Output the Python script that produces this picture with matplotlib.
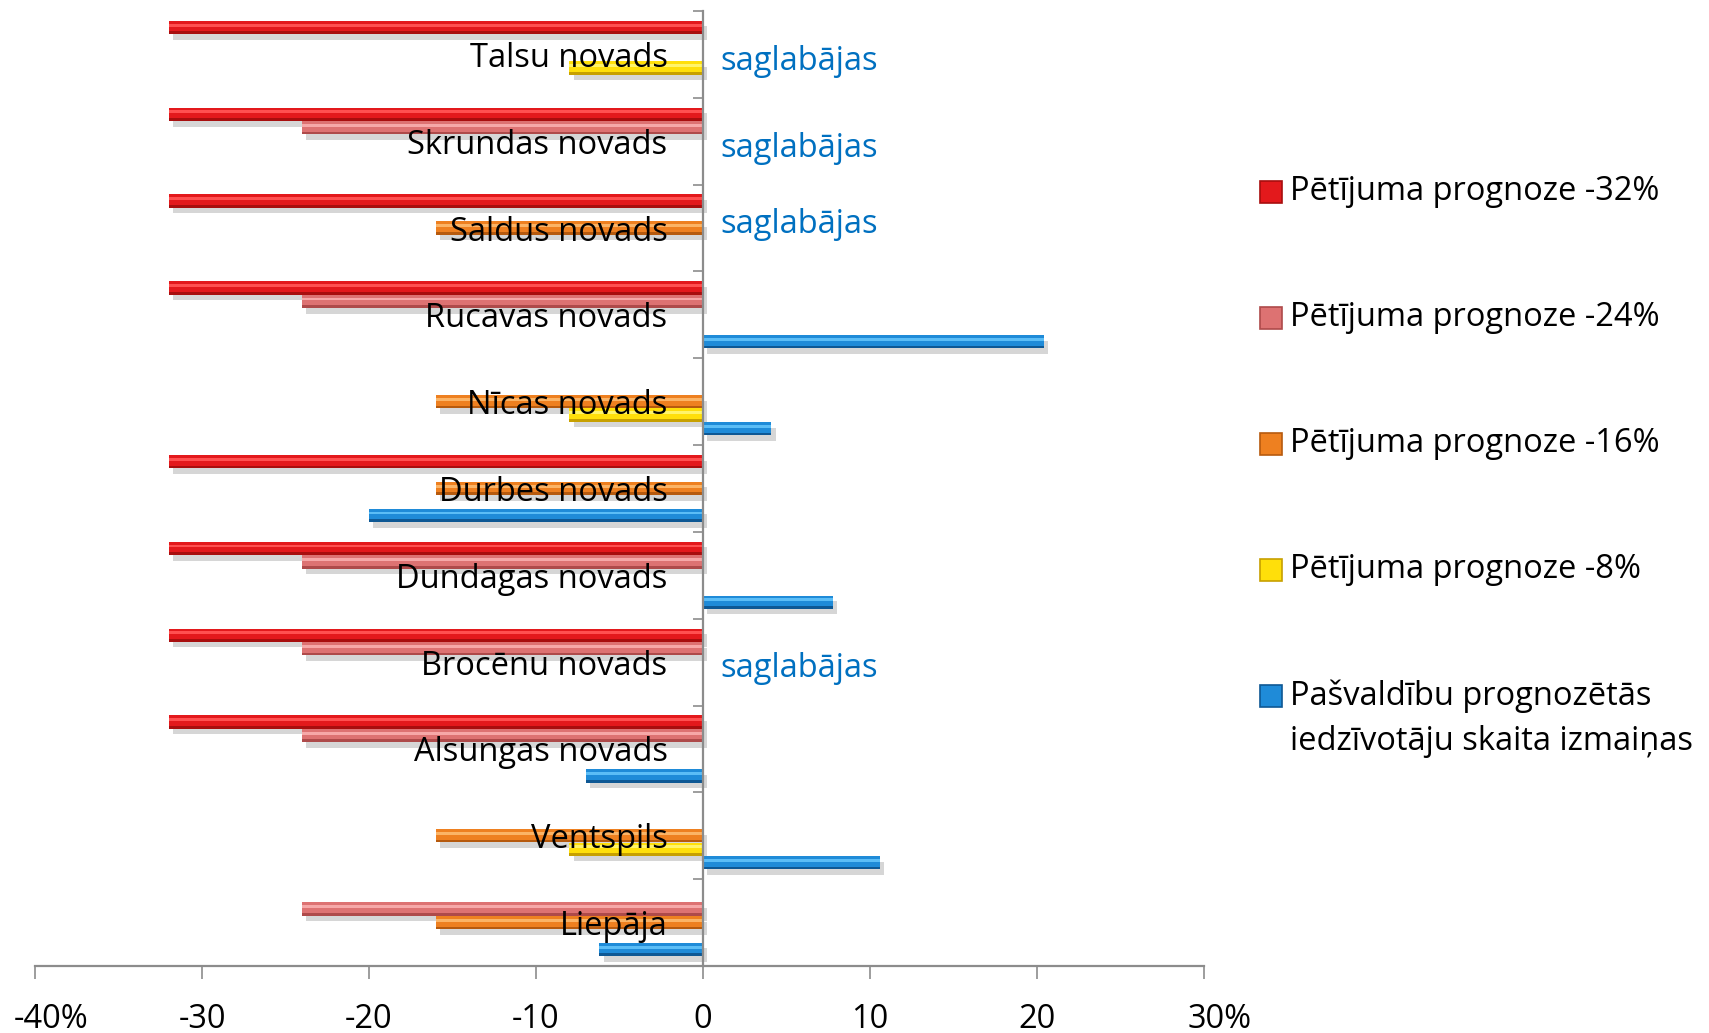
import numpy as np
import matplotlib
matplotlib.use("Agg")
import matplotlib.pyplot as plt
import matplotlib.patheffects as pe
import matplotlib.transforms as mtransforms
from matplotlib.patches import Rectangle

plt.rcParams['font.family'] = ['Open Sans', 'DejaVu Sans']

# ---------------- data ----------------
categories = ["Talsu novads", "Skrundas novads", "Saldus novads", "Rucavas novads",
              "Nīcas novads", "Durbes novads", "Dundagas novads", "Brocēnu novads",
              "Alsungas novads", "Ventspils", "Liepāja"]
nan = np.nan
p32 = [-32, -32, -32, -32, nan, -32, -32, -32, -32, nan, nan]
p24 = [nan, -24, nan, -24, nan, nan, -24, -24, -24, nan, -24]
p16 = [nan, nan, -16, nan, -16, -16, nan, nan, nan, -16, -16]
p8 = [-8, nan, nan, nan, -8, nan, nan, nan, nan, -8, nan]
pasv = [nan, nan, nan, 20.4, 4.1, -20.0, 7.8, nan, -7.0, 10.6, -6.2]
saglabajas = ["Talsu novads", "Skrundas novads", "Saldus novads", "Brocēnu novads"]
saglabajas_text = "saglabājas"

series_names = ["Pētījuma prognoze -32%", "Pētījuma prognoze -24%",
                "Pētījuma prognoze -16%", "Pētījuma prognoze -8%",
                "Pašvaldību prognozētās\niedzīvotāju skaita izmaiņas"]
series_values = [p32, p24, p16, p8, pasv]

xticks = [-40, -30, -20, -10, 0, 10, 20, 30]
xticklabels = ["-40%", "-30", "-20", "-10", "0", "10", "20", "30%"]

# ---------------- styling ----------------
FS = 23.5
# (main, light, dark)
colors = [("#E3191C", "#FF5050", "#A80E0E"),
          ("#DD7272", "#F6A8A8", "#AE4A4A"),
          ("#EE8020", "#FBB466", "#B65A0E"),
          ("#FFDF0A", "#FFF46A", "#C7A000"),
          ("#1F8BD8", "#5BBDF6", "#0E5894")]
W, H = 1709, 1033
fig = plt.figure(figsize=(W / 100, H / 100), dpi=100)
ax = fig.add_axes([35 / W, 1 - 966 / H, (1204 - 35) / W, (966 - 11) / H])

y = np.arange(len(categories))
offsets = [-0.31, -0.155, 0.0, 0.155, 0.31]
bh = 0.153

shadow = [pe.SimplePatchShadow(offset=(3, -4), shadow_rgbFace="#8A8A8A", alpha=0.35), pe.Normal()]
for vals, (cm, cl, cd), off in zip(series_values, colors, offsets):
    v = np.array(vals, dtype=float)
    yy = y + off
    base = ax.barh(yy, v, height=bh, color=cd, edgecolor="none", zorder=2)
    for b in base:
        b.set_path_effects(shadow)
    ax.barh(yy - bh * 0.1, v, height=bh * 0.8, color=cm, edgecolor="none", zorder=3)
    ax.barh(yy - bh * 0.18, v, height=bh * 0.22, color=cl, edgecolor="none", zorder=4)

ax.set_xlim(-40, 30)
ax.set_ylim(len(categories) - 0.5, -0.5)

for s in ["top", "right"]:
    ax.spines[s].set_visible(False)
ax.spines["left"].set_position(("data", 0))
for s in ["left", "bottom"]:
    ax.spines[s].set_color("#8C8C8C")
    ax.spines[s].set_linewidth(1.6)
    ax.spines[s].set_zorder(6)

ax.set_yticks(y)
ax.set_yticklabels(categories)
ax.set_yticks(np.arange(-0.5, len(categories) + 0.5, 1), minor=True)
ax.tick_params(axis="y", which="major", length=0, pad=25.5, labelsize=FS)
ax.tick_params(axis="y", which="minor", length=7, width=1.2, color="#8C8C8C", direction="out")
ax.yaxis.set_zorder(10)

ax.set_xticks(xticks)
ax.set_xticklabels(xticklabels)
ax.tick_params(axis="x", which="major", length=9.5, width=1.2, color="#8C8C8C",
               direction="out", pad=17, labelsize=FS)
shift = mtransforms.ScaledTranslation(16 / 100, 0, fig.dpi_scale_trans)
xl = ax.get_xticklabels()
for i in (0, len(xl) - 1):
    xl[i].set_transform(xl[i].get_transform() + shift)

# saglabājas notes
sag_dy = [7, 7, -4, 6]
for name, dy in zip(saglabajas, sag_dy):
    i = categories.index(name)
    ax.annotate(saglabajas_text, xy=(0, i), xycoords="data", xytext=(17, -dy),
                textcoords="offset pixels", ha="left", va="center",
                color="#0070C0", fontsize=FS, zorder=10)

# legend (manual)
leg_y = [192, 318, 444, 570, 696]
line_gap = 45
for name, (cm, cl, cd), ly in zip(series_names, colors, leg_y):
    fig.patches.append(Rectangle((1260 / W, 1 - (ly + 11) / H), 22 / W, 22 / H,
                                 transform=fig.transFigure, facecolor=cm,
                                 edgecolor=cd, linewidth=1.2))
    for k, line in enumerate(name.split("\n")):
        fig.text(1290 / W, 1 - (ly + k * line_gap) / H, line, ha="left", va="center",
                 fontsize=FS)

fig.savefig("out.png", dpi=100)
